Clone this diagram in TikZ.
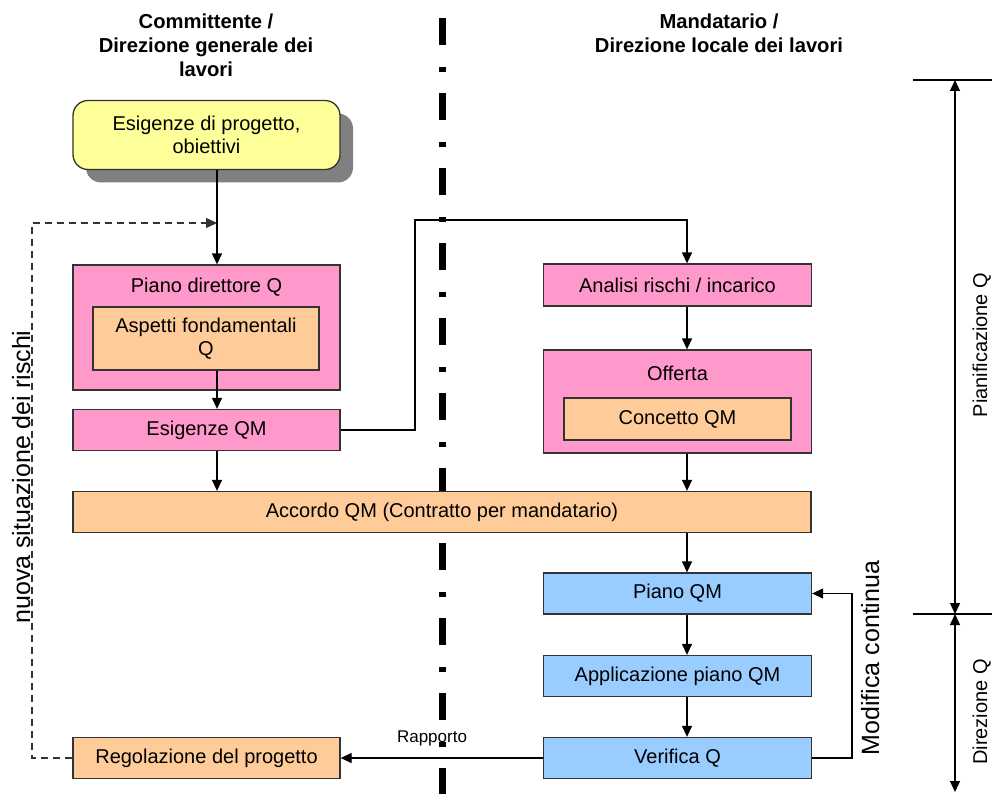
\documentclass[tikz,border=0pt]{standalone}
\usepackage{fontspec}
\setmainfont{Liberation Sans}
\usetikzlibrary{arrows.meta,shadows}
\definecolor{pinkc}{HTML}{FF99CC}
\definecolor{peachc}{HTML}{FFCC99}
\definecolor{bluec}{HTML}{99CCFF}
\definecolor{yellowc}{HTML}{FFFF99}
\definecolor{bordc}{HTML}{333333}
\definecolor{shadc}{HTML}{808080}
\newcommand\bxf{\fontsize{20}{23}\selectfont}
\newcommand\hdf{\bfseries\fontsize{20.2}{23.5}\selectfont}
\tikzset{
  boxnode/.style={draw=bordc, line width=1.3pt, inner sep=0pt, align=center, font=\bxf},
  pinkbox/.style={boxnode, fill=pinkc},
  peachbox/.style={boxnode, fill=peachc},
  bluebox/.style={boxnode, fill=bluec},
  conn/.style={line width=1.3pt, draw=black},
  arr/.style={conn, -{Triangle[width=10pt,length=11pt]}},
  dimarr/.style={line width=1.3pt, {Triangle[width=10pt,length=11pt]}-{Triangle[width=10pt,length=11pt]}},
  plain/.style={inner sep=0pt},
}
\begin{document}
\begin{tikzpicture}[x=1pt,y=-1pt]
\useasboundingbox (0,0) rectangle (992,794);
\fill[white] (0,0) rectangle (992,794);

% divider
\draw[line width=7pt, dash pattern=on 27pt off 22pt on 5pt off 21pt] (442,18) -- (442,794);

% headers
\node[plain, anchor=base, font=\hdf] (h1a) at (206,29) {Committente /};
\node[plain, anchor=base, font=\hdf] (h1b) at (206,53) {Direzione generale dei};
\node[plain, anchor=base, font=\hdf] (h1c) at (206,76.5) {lavori};
\node[plain, anchor=base, font=\hdf] (h2a) at (719,29) {Mandatario /};
\node[plain, anchor=base, font=\hdf] (h2b) at (719,53) {Direzione locale dei lavori};

% column coordinates
\coordinate (colL) at (217,0);
\coordinate (colR) at (687,0);

% boxes
\node[boxnode, fill=yellowc, rounded corners=15pt, minimum width=267pt, minimum height=69pt,
      drop shadow={shadow xshift=13pt, shadow yshift=-13pt, fill=shadc, opacity=1}] (yel) at (206.5,135)
      {Esigenze di progetto,\\obiettivi};

\node[pinkbox, minimum width=267pt, minimum height=125pt] (pdq) at (206.5,327.5) {};
\node[plain, font=\bxf] (pdqt) at (206.5,287) {Piano direttore Q};
\node[peachbox, minimum width=226pt, minimum height=63pt] (asp) at (206,338.5) {Aspetti fondamentali\\Q};
\node[pinkbox, minimum width=267pt, minimum height=41pt] (esq) at (206.5,430) {Esigenze QM};
\node[peachbox, minimum width=738pt, minimum height=41pt] (acc) at (442,512) {Accordo QM (Contratto per mandatario)};

\node[pinkbox, minimum width=268pt, minimum height=42pt] (ana) at (677.5,285) {Analisi rischi / incarico};
\node[pinkbox, minimum width=268pt, minimum height=103pt] (off) at (677.5,401.5) {};
\node[plain, font=\bxf] (offt) at (677.5,373) {Offerta};
\node[peachbox, minimum width=227pt, minimum height=42pt] (con) at (677.5,419) {Concetto QM};

\node[bluebox, minimum width=268pt, minimum height=41pt] (pqm) at (677.5,593.5) {Piano QM};
\node[bluebox, minimum width=268pt, minimum height=41pt] (app) at (677.5,676) {Applicazione piano QM};
\node[bluebox, minimum width=268pt, minimum height=41pt] (ver) at (677.5,758) {Verifica Q};
\node[peachbox, minimum width=267pt, minimum height=41pt] (reg) at (206.5,758) {Regolazione del progetto};

% left column arrows
\draw[arr] (yel.south -| colL) -- (pdq.north -| colL);
\draw[arr] (asp.south -| colL) -- (esq.north -| colL);
\draw[arr] (esq.south -| colL) -- (acc.north -| colL);

% right column arrows
\draw[arr] (ana.south -| colR) -- (off.north -| colR);
\draw[arr] (off.south -| colR) -- (acc.north -| colR);
\draw[arr] (acc.south -| colR) -- (pqm.north -| colR);
\draw[arr] (pqm.south -| colR) -- (app.north -| colR);
\draw[arr] (app.south -| colR) -- (ver.north -| colR);

% Esigenze QM -> Analisi
\coordinate (r1) at (415,220);
\draw[arr] (esq.east) -| (r1) -| (ana.north -| colR);

% dashed feedback
\coordinate (fb) at (32,223);
\coordinate (m1) at (217,223);
\draw[line width=1.3pt, draw=bordc, dash pattern=on 7pt off 5pt, -{Triangle[width=10pt,length=11pt]}]
  (reg.west) -| (fb) -- (m1);
\node[plain, rotate=90, anchor=base, font=\fontsize{25}{28}\selectfont] (nsr) at (30,477) {nuova situazione dei rischi};

% Modifica continua
\coordinate (mc) at (852,593.5);
\draw[arr] (ver.east) -| (mc) -- (pqm.east);
\node[plain, rotate=90, anchor=base, font=\fontsize{25}{28}\selectfont] (mct) at (879,658) {Modifica continua};

% Rapporto
\draw[arr] (ver.west) -- (reg.east);
\node[plain, anchor=base, font=\fontsize{17}{20}\selectfont] (rap) at (432,742) {Rapporto};

% dimension lines
\coordinate (d0a) at (913,80);
\coordinate (d0b) at (992,80);
\coordinate (d1a) at (913,614);
\coordinate (d1b) at (992,614);
\coordinate (v0) at (955,80);
\coordinate (v1) at (955,614);
\coordinate (v2) at (955,792);
\draw[line width=1.3pt] (d0a) -- (d0b);
\draw[line width=1.3pt] (d1a) -- (d1b);
\draw[dimarr] (v0) -- (v1);
\draw[dimarr] (v1) -- (v2);
\node[plain, rotate=90, anchor=base, font=\bxf] (pq) at (987,345) {Pianificazione Q};
\node[plain, rotate=90, anchor=base, font=\bxf] (dq) at (987,712) {Direzione Q};
\end{tikzpicture}
\end{document}
